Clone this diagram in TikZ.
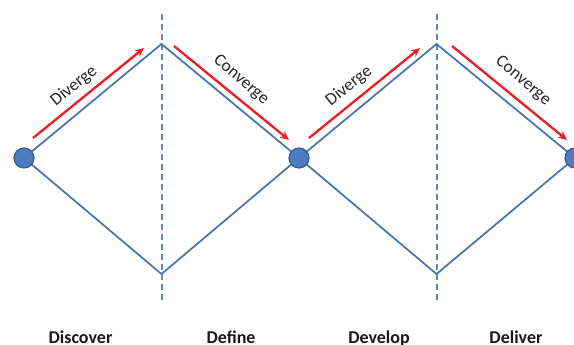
\documentclass[tikz,border=0pt]{standalone}
\usepackage{fontspec}
\setmainfont{Carlito}
\usetikzlibrary{arrows.meta}
\definecolor{lineblue}{HTML}{4E76AE}
\definecolor{dashblue}{HTML}{5E88BC}
\definecolor{dotfill}{HTML}{4A7EC0}
\definecolor{dotedge}{HTML}{385E96}
\definecolor{arrred}{HTML}{EE1C24}
\begin{document}
\begin{tikzpicture}[x=1pt,y=-1pt,
  dot/.style={circle,fill=dotfill,draw=dotedge,line width=1.2pt,minimum size=20pt,inner sep=0pt},
  path/.style={draw=lineblue,line width=1.8pt},
  divider/.style={draw=dashblue,line width=2pt,dash pattern=on 6pt off 4pt},
  flow/.style={draw=arrred,line width=2.3pt,-{Stealth[length=9pt,width=8pt]}},
  steplabel/.style={font=\fontsize{18}{20}\selectfont\bfseries,anchor=base,text=black!90},
  arrlabel/.style={font=\fontsize{17.5}{19}\selectfont,text=black!85,inner sep=0pt}]
\useasboundingbox (0,0) rectangle (574,345);
\clip (0,0) rectangle (574,345);
% dividers
\coordinate (d1t) at (161.5,14); \coordinate (d1b) at (161.5,302);
\coordinate (d2t) at (436.5,14); \coordinate (d2b) at (436.5,302);
\draw[divider] (d1t) -- (d1b);
\draw[divider] (d2t) -- (d2b);
% vertices
\coordinate (p1) at (161.5,44);
\coordinate (v1) at (161.5,274);
\coordinate (p2) at (436.5,44);
\coordinate (v2) at (436.5,274);
\coordinate (c1) at (24,158);
\coordinate (c2) at (299,158);
\coordinate (c3) at (575,158);
\draw[path] (c1) -- (p1) -- (c2) -- (p2) -- (c3);
\draw[path] (c1) -- (v1) -- (c2) -- (v2) -- (c3);
\node[dot] (n1) at (c1) {};
\node[dot] (n2) at (c2) {};
\node[dot] (n3) at (c3) {};
% red arrows
\coordinate (a1s) at (33,138); \coordinate (a1e) at (144,48);
\coordinate (a2s) at (174,46); \coordinate (a2e) at (289,140);
\coordinate (a3s) at (309,138); \coordinate (a3e) at (420,48);
\coordinate (a4s) at (452,46); \coordinate (a4e) at (567,140);
\draw[flow] (a1s) -- (a1e);
\draw[flow] (a2s) -- (a2e);
\draw[flow] (a3s) -- (a3e);
\draw[flow] (a4s) -- (a4e);
\node[arrlabel,rotate=39] (l1) at (74,86) {Diverge};
\node[arrlabel,rotate=-40] (l2) at (241,80) {Converge};
\node[arrlabel,rotate=39] (l3) at (349,86) {Diverge};
\node[arrlabel,rotate=-40] (l4) at (523,81) {Converge};
% stage labels
\node[steplabel] (s1) at (80.5,343.5) {Discover};
\node[steplabel] (s2) at (231,343.5) {Define};
\node[steplabel] (s3) at (379,343.5) {Develop};
\node[steplabel] (s4) at (516,343.5) {Deliver};
\end{tikzpicture}
\end{document}
